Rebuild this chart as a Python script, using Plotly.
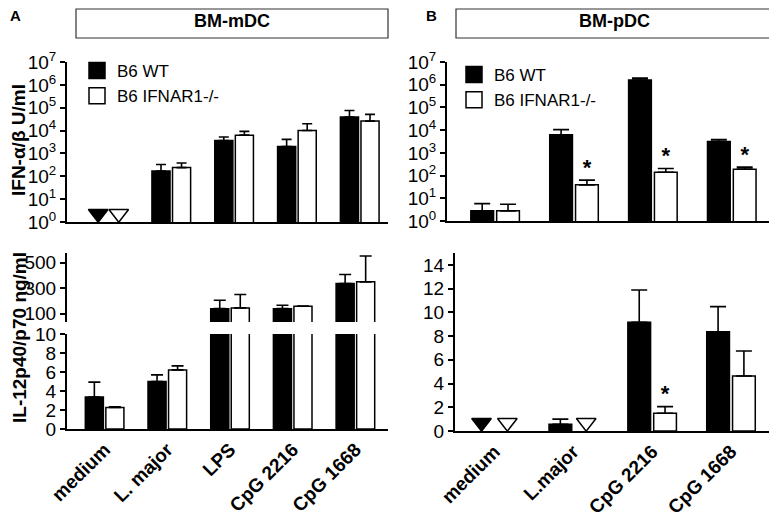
import plotly.graph_objects as go

# ---- data ----
# panel A: bone-marrow derived mDC
mdc_stimuli = ["medium", "L. major", "LPS", "CpG 2216", "CpG 1668"]
mdc_ifn_wt = [None, 170, 3700, 2000, 39000]          # None = not detected
mdc_ifn_wt_top = [None, 330, 5200, 4100, 76000]      # mean + SEM
mdc_ifn_ko = [None, 240, 6300, 10000, 26000]
mdc_ifn_ko_top = [None, 380, 9200, 20000, 51000]
mdc_il12_wt = [3.36, 5.0, 139, 139, 337]
mdc_il12_wt_top = [4.93, 5.7, 205, 166, 408]
mdc_il12_ko = [2.27, 6.22, 145, 158, 350]
mdc_il12_ko_top = [2.35, 6.64, 250, 160, 553]

# panel B: bone-marrow derived pDC
pdc_stimuli = ["medium", "L.major", "CpG 2216", "CpG 1668"]
pdc_ifn_wt = [2.8, 6300, 1.6e6, 3200]
pdc_ifn_wt_top = [5.8, 10500, 1.95e6, 3900]
pdc_ifn_ko = [2.8, 39, 141, 192]
pdc_ifn_ko_top = [5.5, 63, 205, 235]
pdc_ifn_sig = [False, True, True, True]
pdc_il12_wt = [None, 0.56, 9.16, 8.37]
pdc_il12_wt_top = [None, 1.0, 11.88, 10.48]
pdc_il12_ko = [None, None, 1.49, 4.63]
pdc_il12_ko_top = [None, None, 2.05, 6.74]
pdc_il12_sig = [False, False, True, False]

ifn_ticks = [10 ** k for k in range(8)]
ifn_ticktext = ["10<sup>%d</sup>" % k for k in range(8)]

# the page body keeps its default 8px margin, so the figure is drawn 8px in
PAD = 8
W, H = 777 - PAD, 518 - PAD
FONT = "Liberation Sans, Arial, sans-serif"
BARGAP = 0.345
OFF = (1 - BARGAP) / 4   # centre of each bar relative to its group centre


def px(x):
    return (x - PAD) / W


def py(y):
    return 1 - (y - PAD) / H


fig = go.Figure()


def add_pair(xa, ya, wt, wt_top, ko, ko_top, nd_level=None, sig=None, capw=6):
    for vals, tops, fill, shift in ((wt, wt_top, "black", -OFF), (ko, ko_top, "white", OFF)):
        idx = list(range(len(vals)))
        up = [t - v if v is not None else None for v, t in zip(vals, tops)]
        fig.add_trace(go.Bar(
            x=idx, y=vals, xaxis=xa, yaxis=ya, showlegend=False,
            marker=dict(color=fill, line=dict(color="black", width=1.5)),
            error_y=dict(type="data", symmetric=False, array=up, arrayminus=[0] * len(up),
                         color="black", thickness=1.6, width=capw)))
        nd = [i for i, v in enumerate(vals) if v is None]
        if nd and nd_level is not None:
            fig.add_trace(go.Scatter(
                x=[i + shift for i in nd], y=[nd_level] * len(nd), xaxis=xa, yaxis=ya,
                mode="markers", showlegend=False,
                marker=dict(symbol="triangle-down", size=17, color=fill,
                            line=dict(color="black", width=1.5))))
    if sig:
        s = [i for i, f in enumerate(sig) if f]
        fig.add_trace(go.Scatter(
            x=[i + OFF for i in s], y=[ko_top[i] for i in s], xaxis=xa, yaxis=ya,
            mode="text", text=["*"] * len(s), textposition="top center", showlegend=False,
            textfont=dict(size=22, color="black", family=FONT, weight="bold")))


# top-left, top-right, bottom-left (lower / upper segment), bottom-right
add_pair("x", "y", mdc_ifn_wt, mdc_ifn_wt_top, mdc_ifn_ko, mdc_ifn_ko_top, nd_level=10 ** 0.36, capw=5)
add_pair("x2", "y2", pdc_ifn_wt, pdc_ifn_wt_top, pdc_ifn_ko, pdc_ifn_ko_top, sig=pdc_ifn_sig, capw=8)
add_pair("x3", "y3", mdc_il12_wt, mdc_il12_wt_top, mdc_il12_ko, mdc_il12_ko_top, capw=6)
add_pair("x4", "y4", mdc_il12_wt, mdc_il12_wt_top, mdc_il12_ko, mdc_il12_ko_top, capw=6)
add_pair("x5", "y5", pdc_il12_wt, pdc_il12_wt_top, pdc_il12_ko, pdc_il12_ko_top,
         nd_level=0.7, sig=pdc_il12_sig, capw=8)

# legend entries (one legend per top panel)
for name, fill in (("B6 WT", "black"), ("B6 IFNAR1-/-", "white")):
    for lg, xa, ya in (("legend", "x", "y"), ("legend2", "x2", "y2")):
        fig.add_trace(go.Scatter(
            x=[None], y=[None], xaxis=xa, yaxis=ya, mode="markers", name=name, legend=lg,
            marker=dict(symbol="square", size=16, color=fill, line=dict(color="black", width=1.5))))

line = dict(showline=True, linecolor="black", linewidth=2, zeroline=False, showgrid=False,
            automargin=False)
yax = dict(line, ticks="outside", ticklen=5, tickwidth=2, tickcolor="black",
           tickfont=dict(size=19, color="black"))
xax = dict(line, ticks="", tickangle=-45, tickfont=dict(size=19, color="black", weight="bold"))

fig.update_layout(
    width=W, height=H, margin=dict(l=0, r=0, t=0, b=0, autoexpand=False),
    paper_bgcolor="white", plot_bgcolor="white",
    font=dict(family=FONT, color="black"),
    barmode="group", bargap=BARGAP, bargroupgap=0.12,
    xaxis=dict(xax, domain=[px(67), px(388)], range=[-0.66, 4.45], anchor="y", showticklabels=False),
    yaxis=dict(yax, domain=[py(222), py(62)], type="log", range=[0, 7], anchor="x",
               tickvals=ifn_ticks, ticktext=ifn_ticktext),
    xaxis2=dict(xax, domain=[px(447), px(772)], range=[-0.61, 3.51], anchor="y2", showticklabels=False),
    yaxis2=dict(yax, domain=[py(221), py(62)], type="log", range=[0, 7], anchor="x2",
                tickvals=ifn_ticks, ticktext=ifn_ticktext),
    xaxis3=dict(xax, domain=[px(67), px(388)], range=[-0.6, 4.52], anchor="y3",
                tickvals=list(range(len(mdc_stimuli))), ticktext=mdc_stimuli),
    yaxis3=dict(yax, domain=[py(429), py(334)], range=[0, 10], dtick=2, anchor="x3"),
    xaxis4=dict(domain=[px(67), px(388)], range=[-0.6, 4.52], anchor="y4", visible=False),
    yaxis4=dict(yax, domain=[py(322), py(253)], range=[34, 577], anchor="x4",
                tickvals=[100, 300, 500]),
    xaxis5=dict(xax, domain=[px(455), px(772)], range=[-0.5, 3.52], anchor="y5",
                tickvals=list(range(len(pdc_stimuli))), ticktext=pdc_stimuli),
    yaxis5=dict(yax, domain=[py(431), py(253)], range=[0, 15], dtick=2, anchor="x5"),
    legend=dict(x=px(77), y=py(53), xanchor="left", yanchor="top", bgcolor="rgba(0,0,0,0)",
                font=dict(size=17)),
    legend2=dict(x=px(454), y=py(57), xanchor="left", yanchor="top", bgcolor="rgba(0,0,0,0)",
                 font=dict(size=17)),
)


def note(x, y, text, size, angle=0):
    fig.add_annotation(xref="paper", yref="paper", x=px(x), y=py(y), text=text, textangle=angle,
                       xanchor="center", yanchor="middle", showarrow=False, font=dict(size=size))


# header boxes
for x0, x1, label in ((76, 388, "BM-mDC"), (456, 773, "BM-pDC")):
    fig.add_shape(type="rect", xref="paper", yref="paper", x0=px(x0), x1=px(x1), y0=py(38), y1=py(9),
                  line=dict(color="#333", width=1.2))
    note((x0 + x1) / 2, 21, "<b>%s</b>" % label, 18)

# panel letters and y-axis titles (kept clear of the page edge)
note(15, 16, "<b>A</b>", 15)
note(431, 16, "<b>B</b>", 15)
note(19, 140, "<b>IFN-α/β U/ml</b>", 19, -90)
note(19, 338, "<b>IL-12p40/p70 ng/ml</b>", 19, -90)

fig.write_html("out.html")
